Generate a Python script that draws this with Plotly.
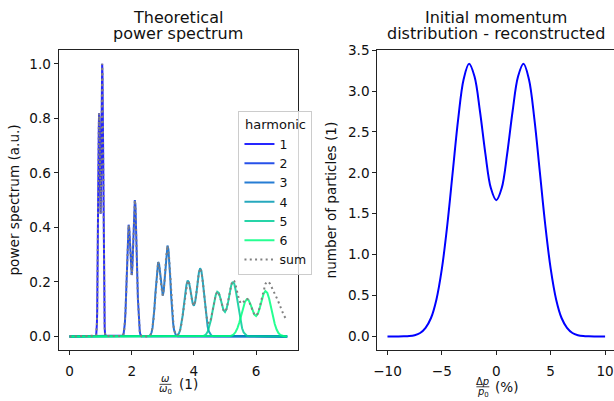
import plotly.graph_objects as go

# ---------------- data ----------------
H1_X = [0.85, 0.86, 0.87, 0.88, 0.89, 0.90, 0.91, 0.92, 0.93, 0.94, 0.95, 0.96, 0.97, 0.98, 0.99, 1.00,
        1.01, 1.02, 1.03, 1.04, 1.05, 1.06, 1.07, 1.08, 1.09, 1.10, 1.11, 1.12, 1.13, 1.14, 1.15, 1.16]
H1_Y = [0.0026, 0.0074, 0.0199, 0.0457, 0.0963, 0.1822, 0.3072, 0.4645, 0.6260, 0.7557, 0.8186, 0.7966,
        0.7049, 0.5836, 0.4836, 0.4499, 0.5034, 0.6323, 0.7949, 0.9349, 1.0000, 0.9610, 0.8287, 0.6401,
        0.4407, 0.2722, 0.1497, 0.0740, 0.0336, 0.0130, 0.0048, 0.0012]

H2_X = [1.70, 1.72, 1.74, 1.76, 1.78, 1.80, 1.82, 1.84, 1.86, 1.88, 1.90, 1.92, 1.94, 1.96, 1.98, 2.00,
        2.02, 2.04, 2.06, 2.08, 2.10, 2.12, 2.14, 2.16, 2.18, 2.20, 2.22, 2.24, 2.26, 2.28, 2.30, 2.32]
H2_Y = [0.0013, 0.0037, 0.0100, 0.0229, 0.0482, 0.0911, 0.1536, 0.2323, 0.3130, 0.3779, 0.4093, 0.3983,
        0.3525, 0.2918, 0.2418, 0.2250, 0.2517, 0.3162, 0.3975, 0.4675, 0.5000, 0.4805, 0.4144, 0.3201,
        0.2204, 0.1361, 0.0749, 0.0370, 0.0168, 0.0065, 0.0024, 0.0006]

H3_X = [2.55, 2.58, 2.61, 2.64, 2.67, 2.70, 2.73, 2.76, 2.79, 2.82, 2.85, 2.88, 2.91, 2.94, 2.97, 3.00,
        3.03, 3.06, 3.09, 3.12, 3.15, 3.18, 3.21, 3.24, 3.27, 3.30, 3.33, 3.36, 3.39, 3.42, 3.45, 3.48]
H3_Y = [0.0009, 0.0025, 0.0066, 0.0152, 0.0321, 0.0607, 0.1024, 0.1548, 0.2087, 0.2519, 0.2729, 0.2655,
        0.2350, 0.1945, 0.1612, 0.1500, 0.1678, 0.2108, 0.2650, 0.3116, 0.3333, 0.3203, 0.2762, 0.2134,
        0.1469, 0.0907, 0.0499, 0.0247, 0.0112, 0.0043, 0.0016, 0.0004]

H4_X = [3.40, 3.44, 3.48, 3.52, 3.56, 3.60, 3.64, 3.68, 3.72, 3.76, 3.80, 3.84, 3.88, 3.92, 3.96, 4.00,
        4.04, 4.08, 4.12, 4.16, 4.20, 4.24, 4.28, 4.32, 4.36, 4.40, 4.44, 4.48, 4.52, 4.56, 4.60, 4.64]
H4_Y = [0.0007, 0.0019, 0.0050, 0.0114, 0.0241, 0.0456, 0.0768, 0.1161, 0.1565, 0.1889, 0.2047, 0.1992,
        0.1762, 0.1459, 0.1209, 0.1125, 0.1259, 0.1581, 0.1987, 0.2337, 0.2500, 0.2403, 0.2072, 0.1600,
        0.1102, 0.0681, 0.0374, 0.0185, 0.0084, 0.0033, 0.0012, 0.0003]

H5_X = [4.25, 4.30, 4.35, 4.40, 4.45, 4.50, 4.55, 4.60, 4.65, 4.70, 4.75, 4.80, 4.85, 4.90, 4.95, 5.00,
        5.05, 5.10, 5.15, 5.20, 5.25, 5.30, 5.35, 5.40, 5.45, 5.50, 5.55, 5.60, 5.65, 5.70, 5.75, 5.80]
H5_Y = [0.0005, 0.0015, 0.0040, 0.0091, 0.0193, 0.0364, 0.0614, 0.0929, 0.1252, 0.1511, 0.1637, 0.1593,
        0.1410, 0.1167, 0.0967, 0.0900, 0.1007, 0.1265, 0.1590, 0.1870, 0.2000, 0.1922, 0.1657, 0.1280,
        0.0881, 0.0544, 0.0299, 0.0148, 0.0067, 0.0026, 0.0010, 0.0002]

H6_X = [5.10, 5.16, 5.22, 5.28, 5.34, 5.40, 5.46, 5.52, 5.58, 5.64, 5.70, 5.76, 5.82, 5.88, 5.94, 6.00,
        6.06, 6.12, 6.18, 6.24, 6.30, 6.36, 6.42, 6.48, 6.54, 6.60, 6.66, 6.72, 6.78, 6.84, 6.90, 6.96]
H6_Y = [0.0004, 0.0012, 0.0033, 0.0076, 0.0161, 0.0304, 0.0512, 0.0774, 0.1043, 0.1260, 0.1364, 0.1328,
        0.1175, 0.0973, 0.0806, 0.0750, 0.0839, 0.1054, 0.1325, 0.1558, 0.1667, 0.1602, 0.1381, 0.1067,
        0.0735, 0.0454, 0.0250, 0.0123, 0.0056, 0.0022, 0.0008, 0.0002]

# sum of all harmonics (incl. higher ones) where peaks overlap, 2.50 .. 7.00
SUM_TAIL_X = [2.50, 2.55, 2.60, 2.65, 2.70, 2.75, 2.80, 2.85, 2.90, 2.95, 3.00, 3.05, 3.10, 3.15, 3.20,
              3.25, 3.30, 3.35, 3.40, 3.45, 3.50, 3.55, 3.60, 3.65, 3.70, 3.75, 3.80, 3.85, 3.90, 3.95,
              4.00, 4.05, 4.10, 4.15, 4.20, 4.25, 4.30, 4.35, 4.40, 4.45, 4.50, 4.55, 4.60, 4.65, 4.70,
              4.75, 4.80, 4.85, 4.90, 4.95, 5.00, 5.05, 5.10, 5.15, 5.20, 5.25, 5.30, 5.35, 5.40, 5.45,
              5.50, 5.55, 5.60, 5.65, 5.70, 5.75, 5.80, 5.85, 5.90, 5.95, 6.00, 6.05, 6.10, 6.15, 6.20,
              6.25, 6.30, 6.35, 6.40, 6.45, 6.50, 6.55, 6.60, 6.65, 6.70, 6.75, 6.80, 6.85, 6.90, 6.95,
              7.00]
SUM_TAIL_Y = [0.0000, 0.0009, 0.0048, 0.0208, 0.0607, 0.1367, 0.2244, 0.2729, 0.2467, 0.1820, 0.1500,
              0.1947, 0.2818, 0.3333, 0.2930, 0.1910, 0.0907, 0.0333, 0.0089, 0.0040, 0.0078, 0.0204,
              0.0456, 0.0862, 0.1366, 0.1816, 0.2047, 0.1943, 0.1612, 0.1264, 0.1125, 0.1329, 0.1782,
              0.2258, 0.2500, 0.2337, 0.1860, 0.1264, 0.0771, 0.0513, 0.0490, 0.0655, 0.0941, 0.1255,
              0.1511, 0.1637, 0.1593, 0.1410, 0.1167, 0.0967, 0.0900, 0.1007, 0.1269, 0.1601, 0.1894,
              0.2051, 0.2026, 0.1838, 0.1584, 0.1356, 0.1227, 0.1209, 0.1270, 0.1350, 0.1390, 0.1350,
              0.1236, 0.1075, 0.0911, 0.0795, 0.0759, 0.0834, 0.1005, 0.1247, 0.1512, 0.1751, 0.1927,
              0.2004, 0.1997, 0.1926, 0.1816, 0.1693, 0.1567, 0.1449, 0.1322, 0.1174, 0.1024, 0.0879,
              0.0752, 0.0672, 0.0644]

HARMONIC_LABELS = ["1", "2", "3", "4", "5", "6"]

MOM_X = [-10.0, -9.5, -9.0, -8.5, -8.0, -7.5, -7.0, -6.5, -6.0, -5.5, -5.0, -4.5, -4.0, -3.5, -3.0,
         -2.5, -2.0, -1.5, -1.0, -0.5, 0.0, 0.5, 1.0, 1.5, 2.0, 2.5, 3.0, 3.5, 4.0, 4.5, 5.0, 5.5,
         6.0, 6.5, 7.0, 7.5, 8.0, 8.5, 9.0, 9.5, 10.0]
MOM_Y = [0.0, 0.0, 0.0, 0.001, 0.004, 0.015, 0.042, 0.105, 0.225, 0.452, 0.828, 1.365, 2.014, 2.659,
         3.145, 3.333, 3.177, 2.753, 2.231, 1.814, 1.665, 1.814, 2.231, 2.753, 3.177, 3.333, 3.145,
         2.659, 2.014, 1.365, 0.828, 0.452, 0.225, 0.105, 0.042, 0.015, 0.004, 0.001, 0.0, 0.0, 0.0]

# ---------------- styling ----------------
W, H = 614, 401
FONT = "DejaVu Sans"
TICK = 13.6
LEG = 12.5
COLORS = ["#0000ff", "#0033e5", "#0066cc", "#0099b2", "#00cc99", "#00ff7f"]
AX = "#222222"
TXT = "#111111"


def px(x):
    return x / W


def py(y):
    return 1 - y / H


fig = go.Figure()

harm = [(H1_X, H1_Y), (H2_X, H2_Y), (H3_X, H3_Y), (H4_X, H4_Y), (H5_X, H5_Y), (H6_X, H6_Y)]
for (hx, hy), lab, col in zip(harm, HARMONIC_LABELS, COLORS):
    fig.add_trace(go.Scatter(
        x=[0.0] + hx + [7.0], y=[0.0] + hy + [0.0], mode="lines", name=lab,
        line=dict(color=col, width=2), opacity=0.85, xaxis="x", yaxis="y"))

sum_x = [0.0] + H1_X + H2_X + SUM_TAIL_X
sum_y = [0.0] + H1_Y + H2_Y + SUM_TAIL_Y
fig.add_trace(go.Scatter(
    x=sum_x, y=sum_y, mode="lines", name="sum",
    line=dict(color="#808080", width=2, dash="2px,3.3px"), xaxis="x", yaxis="y"))

fig.add_trace(go.Scatter(
    x=MOM_X, y=MOM_Y, mode="lines", showlegend=False, line_shape="spline",
    line=dict(color="#0000ff", width=2), xaxis="x2", yaxis="y2"))

axis_common = dict(showgrid=False, zeroline=False, showline=True, linecolor=AX, linewidth=1,
                   ticks="outside", ticklen=4, tickwidth=1, tickcolor=AX,
                   tickfont=dict(family=FONT, size=TICK, color=TXT))

fig.update_layout(
    width=W, height=H, margin=dict(l=0, r=0, t=0, b=0),
    paper_bgcolor="white", plot_bgcolor="white",
    font=dict(family=FONT, size=TICK, color=TXT),
    xaxis=dict(domain=[px(55), px(296)], range=[-0.35, 7.35], tickvals=[0, 2, 4, 6],
               mirror=True, anchor="y", ticklabelstandoff=5, **axis_common),
    yaxis=dict(domain=[1 - 349 / H, 1 - 43 / H], range=[-0.05, 1.05],
               tickvals=[0, 0.2, 0.4, 0.6, 0.8, 1.0], tickformat=".1f",
               mirror=True, anchor="x", **axis_common),
    xaxis2=dict(domain=[px(375.7), 1.0], range=[-10.94, 10.82], tickvals=[-10, -5, 0, 5, 10],
                mirror=True, anchor="y2", ticklabelstandoff=5, **axis_common),
    yaxis2=dict(domain=[1 - 349 / H, 1 - 43 / H], range=[-0.1667, 3.5],
                tickvals=[0, 0.5, 1.0, 1.5, 2.0, 2.5, 3.0, 3.5], tickformat=".1f",
                anchor="x2", **axis_common),
    legend=dict(x=px(236), y=py(105.5), xanchor="left", yanchor="top",
                bgcolor="rgba(255,255,255,0.8)", bordercolor="#cccccc", borderwidth=1,
                font=dict(family=FONT, size=LEG, color=TXT),
                title=dict(text="harmonic", side="top center",
                           font=dict(family=FONT, size=LEG + 0.5, color=TXT)),
                tracegroupgap=0),
)

ann = []


def text(t, x, y, size, xanchor="center", yanchor="middle", angle=0):
    ann.append(dict(text=t, x=px(x), y=py(y), xref="paper", yref="paper", showarrow=False,
                    xanchor=xanchor, yanchor=yanchor, textangle=angle,
                    font=dict(family=FONT, size=size, color=TXT)))


# titles (two separate lines for tight spacing)
text("Theoretical", 175.5, 9.5, 16)
text("power spectrum", 175.5, 26.5, 16)
text("Initial momentum", 495.5, 9.5, 16)
text("distribution - reconstructed", 495.5, 26.5, 16)
# y labels
text("power spectrum (a.u.)", 10.5, 196, TICK, angle=-90)
text("number of particles (1)", 329.5, 196, TICK, angle=-90)
# x labels (fractions)
SMALL = 10
text("<i>ω</i>", 162.5, 378.5, SMALL)
text("<i>ω</i><sub>0</sub>", 162.5, 389.5, SMALL)
text("(1)", 174, 383.5, TICK, xanchor="left")
text("Δ<i>p</i>", 482, 381, SMALL)
text("<i>p</i><sub>0</sub>", 482, 392.5, SMALL)
text("(%)", 492, 386.5, TICK, xanchor="left")
fig.update_layout(annotations=ann)

fig.add_shape(type="line", xref="paper", yref="paper", x0=px(156.5), x1=px(168.5), y0=py(384), y1=py(384),
              line=dict(color=TXT, width=0.8))
fig.add_shape(type="line", xref="paper", yref="paper", x0=px(475.5), x1=px(488.5), y0=py(386.5),
              y1=py(386.5), line=dict(color=TXT, width=0.8))

fig.write_html("out.html", config={"displayModeBar": False},
               post_script="document.body.style.margin='0';document.body.style.overflow='hidden';")
